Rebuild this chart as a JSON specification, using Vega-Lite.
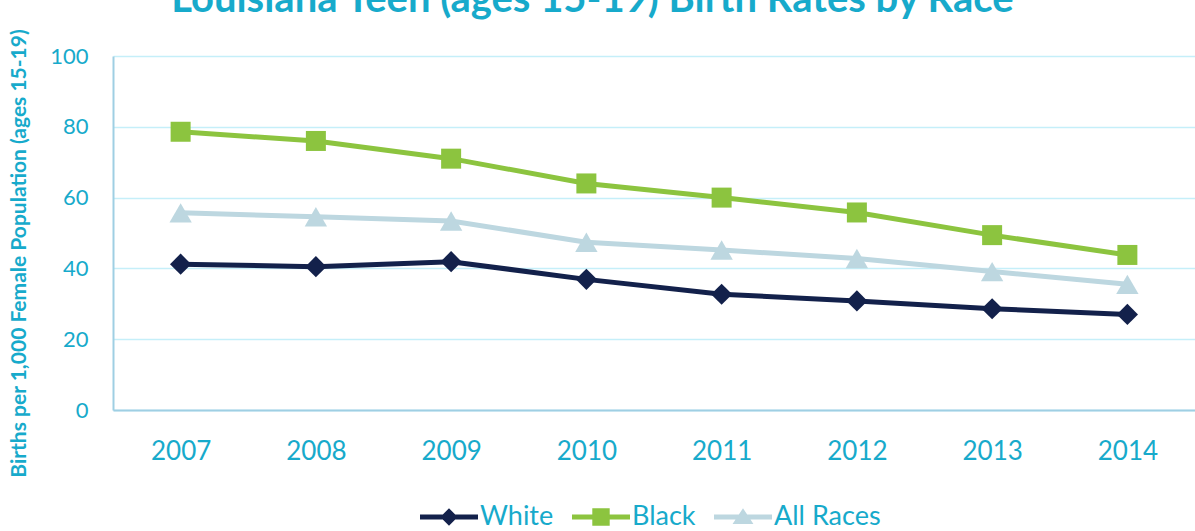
{
  "$schema": "https://vega.github.io/schema/vega-lite/v6.json",
  "width": 1082,
  "height": 354,
  "autosize": {"type": "none"},
  "padding": {"left": 113, "top": 56, "right": 0, "bottom": 121},
  "background": "white",
  "title": {
    "text": "Louisiana Teen (ages 15-19) Birth Rates by Race²",
    "font": "Lato",
    "fontSize": 40,
    "fontWeight": "bold",
    "color": "#17AACB",
    "anchor": "middle",
    "frame": "group",
    "baseline": "alphabetic",
    "offset": -23,
    "dx": -55
  },
  "config": {
    "view": {"stroke": null},
    "font": "Lato"
  },
  "data": {
    "values": [
      {"year": "2007", "series": "White", "rate": 41.2},
      {"year": "2008", "series": "White", "rate": 40.5},
      {"year": "2009", "series": "White", "rate": 41.9},
      {"year": "2010", "series": "White", "rate": 36.9},
      {"year": "2011", "series": "White", "rate": 32.7},
      {"year": "2012", "series": "White", "rate": 30.8},
      {"year": "2013", "series": "White", "rate": 28.6},
      {"year": "2014", "series": "White", "rate": 27.0},
      {"year": "2007", "series": "Black", "rate": 78.6},
      {"year": "2008", "series": "Black", "rate": 76.0},
      {"year": "2009", "series": "Black", "rate": 71.0},
      {"year": "2010", "series": "Black", "rate": 64.0},
      {"year": "2011", "series": "Black", "rate": 60.0},
      {"year": "2012", "series": "Black", "rate": 55.8},
      {"year": "2013", "series": "Black", "rate": 49.4},
      {"year": "2014", "series": "Black", "rate": 43.8},
      {"year": "2007", "series": "All Races", "rate": 55.7},
      {"year": "2008", "series": "All Races", "rate": 54.6},
      {"year": "2009", "series": "All Races", "rate": 53.4},
      {"year": "2010", "series": "All Races", "rate": 47.4},
      {"year": "2011", "series": "All Races", "rate": 45.2},
      {"year": "2012", "series": "All Races", "rate": 42.8},
      {"year": "2013", "series": "All Races", "rate": 39.1},
      {"year": "2014", "series": "All Races", "rate": 35.5}
    ]
  },
  "encoding": {
    "x": {
      "field": "year",
      "type": "ordinal",
      "scale": {"type": "point", "padding": 0.5},
      "axis": {
        "title": null,
        "labelAngle": 0,
        "labelFontSize": 26,
        "labelColor": "#17AACB",
        "labelPadding": 28,
        "ticks": false,
        "domainColor": "#9FCFE3",
        "domainWidth": 2,
        "grid": false
      }
    },
    "y": {
      "field": "rate",
      "type": "quantitative",
      "scale": {"domain": [0, 100], "nice": false},
      "axis": {
        "values": [0, 20, 40, 60, 80, 100],
        "title": "Births per 1,000 Female Population (ages 15-19)",
        "titleFontSize": 21,
        "titleFontWeight": "bold",
        "titleColor": "#17AACB",
        "titleAngle": -90,
        "titleAlign": "center",
        "titleBaseline": "bottom",
        "titleX": -84,
        "titleY": 197,
        "labelFontSize": 22,
        "labelColor": "#17AACB",
        "labelPadding": 25,
        "ticks": false,
        "domainColor": "#9FCFE3",
        "domainWidth": 2,
        "grid": true,
        "gridColor": "#C5EFF9",
        "gridWidth": 1.5
      }
    },
    "color": {
      "field": "series",
      "type": "nominal",
      "scale": {
        "domain": ["White", "Black", "All Races"],
        "range": ["#13214B", "#8CC43F", "#BDD7E0"]
      },
      "legend": {
        "orient": "none",
        "direction": "horizontal",
        "legendX": 307,
        "legendY": 432,
        "title": null,
        "symbolSize": 3364,
        "symbolStrokeWidth": 0,
        "symbolOpacity": 1,
        "labelFontSize": 27,
        "labelFont": "Lato",
        "labelColor": "#17AACB",
        "labelOffset": 2,
        "columnPadding": 18
      }
    }
  },
  "layer": [
    {
      "mark": {"type": "line", "strokeWidth": 5}
    },
    {
      "transform": [{"filter": "datum.series === 'White'"}],
      "mark": {"type": "point", "filled": true, "size": 450, "opacity": 1, "shape": "diamond"}
    },
    {
      "transform": [{"filter": "datum.series === 'Black'"}],
      "mark": {"type": "point", "filled": true, "size": 400, "opacity": 1, "shape": "square"}
    },
    {
      "transform": [{"filter": "datum.series === 'All Races'"}],
      "mark": {"type": "point", "filled": true, "size": 500, "opacity": 1, "shape": "triangle-up"}
    },
    {
      "transform": [{"filter": "datum.rate < 0"}],
      "mark": {"type": "point", "filled": true, "opacity": 1, "strokeWidth": 0},
      "encoding": {
        "shape": {
          "field": "series",
          "type": "nominal",
          "scale": {
            "domain": ["White", "Black", "All Races"],
            "range": [
              "M-1,-0.09L1,-0.09L1,0.09L-1,0.09Z M0,-0.3L0.3,0L0,0.3L-0.3,0Z",
              "M-1,-0.09L1,-0.09L1,0.09L-1,0.09Z M-0.3,-0.3L0.3,-0.3L0.3,0.3L-0.3,0.3Z",
              "M-1,-0.09L1,-0.09L1,0.09L-1,0.09Z M0,-0.3L0.36,0.24L-0.36,0.24Z"
            ]
          }
        }
      }
    }
  ]
}
